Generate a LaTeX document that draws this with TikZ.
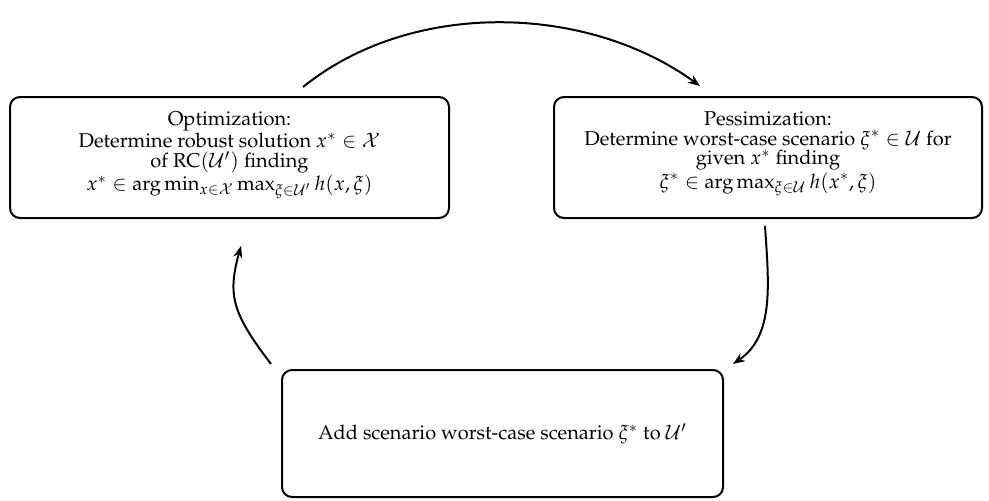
\documentclass[tikz,border=0pt]{standalone}
\usepackage[T1]{fontenc}
\usepackage{mathpazo}
\usetikzlibrary{arrows.meta,calc}
\begin{document}
\begin{tikzpicture}[x=0.5pt,y=-0.5pt,
  stage/.style={draw, line width=1pt, rounded corners=5pt, inner sep=0pt},
  stagetext/.style={align=center, inner sep=0pt, font=\fontsize{10}{9.9}\selectfont},
  flow/.style={line width=1pt, -{Stealth[length=6pt,width=4.6pt]}}]
\useasboundingbox (0,0) rectangle (989,500);

% the three stages of the cutting-plane loop
\node[stage, minimum width=219.5pt, minimum height=60.5pt] (opt) at (229.5,157.5) {};
\node[stage, minimum width=214pt, minimum height=60.5pt] (pes) at (768,157.5) {};
\node[stage, minimum width=220.5pt, minimum height=63.5pt] (add) at (502.5,433.5) {};

\node[stagetext, anchor=north] (optt) at ($(opt.north)+(0,15)$)
  {Optimization:\\
   Determine robust solution $x^*\in\mathcal{X}$\\
   of RC$(\mathcal{U}')$ finding\\
   $x^*\in\arg\min_{x\in\mathcal{X}}\max_{\xi\in\mathcal{U}'}h(x,\xi)$};
\node[stagetext, anchor=north] (pest) at ($(pes.north)+(0,15)$)
  {Pessimization:\\
   Determine worst-case scenario $\xi^*\in\mathcal{U}$ for\\
   given $x^*$ finding\\
   $\xi^*\in\arg\max_{\xi\in\mathcal{U}}h(x^*,\xi)$};
\node[stagetext] (addt) at (add.center)
  {Add scenario worst-case scenario $\xi^*$ to $\mathcal{U}'$};

% arrow end points, kept clear of the boxes
\coordinate (a1) at ($(opt.north)+(73.5,-9)$);
\coordinate (a2) at ($(pes.north)+(-68,-10)$);
\coordinate (a3) at ($(pes.south)+(-3,7)$);
\coordinate (a4) at ($(add.north east)+(9,-5)$);
\coordinate (a5) at ($(add.north west)+(-10,-5)$);
\coordinate (a6) at ($(opt.south)+(11.5,27)$);

\draw[flow] (a1) .. controls +(109,-88) and +(-113,-82) .. (a2);
\draw[flow] (a3) .. controls +(4,60) and +(41,-28) .. (a4);
\draw[flow] (a5) .. controls +(-38,-50) and +(-14,50) .. (a6);
\end{tikzpicture}
\end{document}
